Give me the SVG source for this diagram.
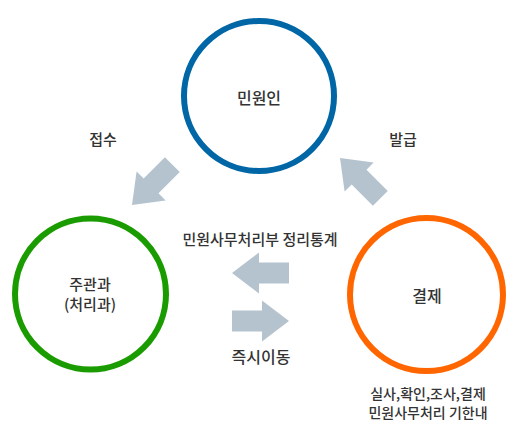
<svg xmlns="http://www.w3.org/2000/svg" width="518" height="433" viewBox="0 0 518 433">
<defs>
<style>
text{font-family:"Noto Sans CJK KR","Noto Sans",sans-serif;fill:#333;text-anchor:middle;font-weight:500}
.n{font-size:15px}
.b{font-size:16px}
.s{font-size:14px}
.c{fill:#fff;stroke-width:6}
.a{fill:#b4c3ce}
</style>
<path id="arr" d="M0,0 L27,-20.5 L27,-10.5 L57,-10.5 L57,10.5 L27,10.5 L27,20.5 Z"/>
</defs>
<rect width="518" height="433" fill="#fff"/>
<g id="connectors">
<use href="#arr" class="a" transform="translate(132,205) rotate(-45)"/>
<use href="#arr" class="a" transform="translate(340,158) rotate(45)"/>
<use href="#arr" class="a" transform="translate(232,273)"/>
<use href="#arr" class="a" transform="translate(289,321) rotate(180)"/>
<text class="n" x="103" y="145">접수</text>
<text class="n" x="403" y="145">발급</text>
<text class="n" x="260" y="245">민원사무처리부 정리통계</text>
<text class="b" x="261" y="363">즉시이동</text>
</g>
<g id="minwonin">
<circle class="c" cx="259" cy="96" r="75" stroke="#0066a6"/>
<text class="b" x="259" y="104">민원인</text>
</g>
<g id="jugwangwa">
<circle class="c" cx="90.5" cy="294" r="75.5" stroke="#1a9c00"/>
<text class="n" x="90" y="290">주관과</text>
<text class="n" x="90" y="310">(처리과)</text>
</g>
<g id="gyeolje">
<circle class="c" cx="426.5" cy="294.5" r="76.5" stroke="#ff6600"/>
<text class="b" x="427" y="302">결제</text>
</g>
<g id="note">
<text class="s" x="428" y="399">실사,확인,조사,결제</text>
<text class="s" x="428" y="418">민원사무처리 기한내</text>
</g>
</svg>
